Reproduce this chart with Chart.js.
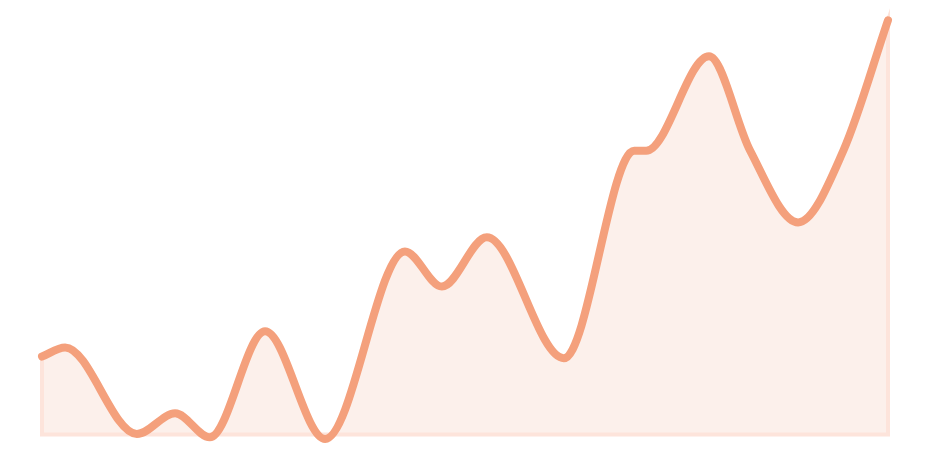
<!DOCTYPE html>
<html>
<head>
<meta charset="utf-8">
<script src="https://cdn.jsdelivr.net/npm/chart.js@4"></script>
<style>
  html, body { margin: 0; padding: 0; background: #fff; }
  .wrap { width: 930px; height: 462px; position: relative; }
</style>
</head>
<body>
<div class="wrap"><canvas id="chart"></canvas></div>
<script>
// values: x runs 0..19, y 0 = bottom edge of the fill
const positions = [0, 0.52, 2.13, 2.99, 3.77, 5.01, 6.36, 8.15, 8.98, 9.99,
  11.72, 13.3, 13.57, 14.98, 15.9, 16.98, 18.0, 19.0];
const values = [18.8, 21.0, 0.1, 5.1, -0.7, 24.9, -1.1, 44.2, 35.7, 47.6,
  18.4, 68.5, 68.5, 91.3, 68.6, 51.2, 68.6, 100];

const lineColor = '#F4A07C';
const fillColor = '#FCF0EB';
const edgeColor = '#FDE4DB';

// light outline round the filled area (sides and bottom)
const areaEdge = {
  id: 'areaEdge',
  beforeDatasetDraw(chart, args) {
    const meta = args.meta;
    const line = meta.dataset;
    const pts = meta.data;
    if (!line || !pts.length) return;
    const zero = chart.scales.y.getPixelForValue(0);
    const ctx = chart.ctx;
    ctx.save();
    ctx.beginPath();
    line.path(ctx);
    ctx.lineTo(pts[pts.length - 1].x, zero);
    ctx.lineTo(pts[0].x, zero);
    ctx.closePath();
    ctx.strokeStyle = edgeColor;
    ctx.lineWidth = 4;
    ctx.stroke();
    ctx.restore();
  }
};

new Chart(document.getElementById('chart'), {
  type: 'line',
  data: {
    datasets: [{
      data: positions.map((x, i) => ({ x: x, y: values[i] })),
      borderColor: lineColor,
      backgroundColor: fillColor,
      borderWidth: 8,
      borderCapStyle: 'round',
      borderJoinStyle: 'round',
      cubicInterpolationMode: 'monotone',
      fill: 'origin',
      pointRadius: 0,
      pointHoverRadius: 0,
      clip: false
    }]
  },
  options: {
    responsive: true,
    maintainAspectRatio: false,
    animation: false,
    layout: { padding: { left: 42, right: 42, top: 12, bottom: 11 } },
    plugins: {
      legend: { display: false },
      tooltip: { enabled: false }
    },
    scales: {
      x: { type: 'linear', display: false, min: 0, max: 19 },
      y: { display: false, min: -4, max: 102 }
    }
  },
  plugins: [areaEdge]
});
</script>
</body>
</html>
